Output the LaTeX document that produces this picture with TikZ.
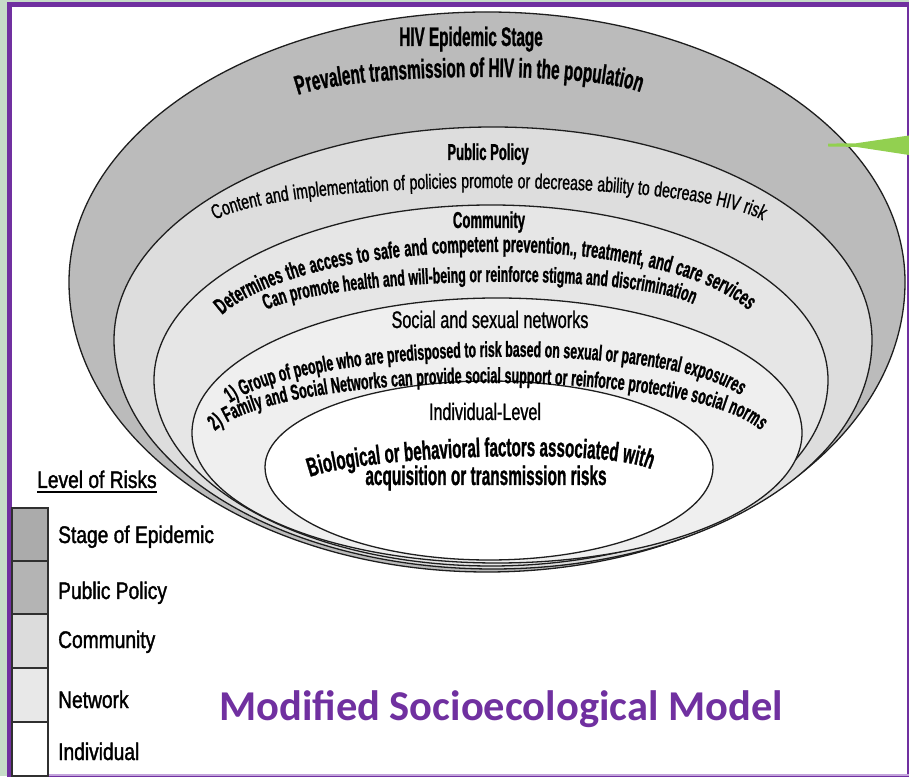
\documentclass[tikz,border=0pt]{standalone}
\usepackage{fontspec}
\setmainfont{Liberation Sans}
\newfontfamily\ringbold[FakeStretch=0.57, FakeBold=1]{Liberation Sans}
\newfontfamily\ringreg[FakeStretch=0.68, FakeBold=1]{Liberation Sans}
\newfontfamily\keyfont[FakeStretch=0.8, FakeBold=1.5]{Liberation Sans}
\newfontfamily\titlefont{Carlito}
\usetikzlibrary{decorations.text}

\definecolor{framepurple}{HTML}{7030A0}
\definecolor{framelight}{HTML}{C3A4DC}
\definecolor{outsidegreen}{HTML}{C6DCC8}
\definecolor{leafgreen}{HTML}{92D050}
\definecolor{ringink}{HTML}{1E1E1E}
\definecolor{keyink}{HTML}{303030}
\definecolor{epifill}{HTML}{BBBBBB}
\definecolor{policyfill}{HTML}{DDDDDD}
\definecolor{commfill}{HTML}{E6E6E6}
\definecolor{netfill}{HTML}{EFEFEF}
\definecolor{keyepi}{HTML}{ABABAB}
\definecolor{keypolicy}{HTML}{B4B4B4}
\definecolor{keycomm}{HTML}{DCDCDC}
\definecolor{keynet}{HTML}{E8E8E8}

% page height in px; every y below is measured from the top edge
\newcommand{\pgh}{776}
% egg-shaped ring: fill, centre x, centre y, x radius, upper y radius, lower y radius
\newcommand{\ringshape}[6]{%
  \filldraw[ringline, fill=#1] (#2-#4,\pgh-#3)
    arc[start angle=180, end angle=0, x radius=#4pt, y radius=#5pt]
    arc[start angle=0, end angle=-180, x radius=#4pt, y radius=#6pt] -- cycle;}

\begin{document}
\begin{tikzpicture}[x=1pt, y=1pt,
  ringline/.style={draw=ringink, line width=1.3pt},
  keybox/.style={draw=keyink, line width=1.4pt},
  keylabel/.style={anchor=base west, inner sep=0pt, text=black,
    font=\keyfont\fontsize{24}{24}\selectfont},
  heading/.style={anchor=base, inner sep=0pt, text=black},
  ringtext/.style={decorate, decoration={text along path,
    text align={fit to path stretching spaces}, text={#1}}}]

\useasboundingbox (0,0) rectangle (909,776);
\clip (0,0) rectangle (909,776);

% slide background and frame
\fill[outsidegreen] (0,0) rectangle (909,776);
\fill[white] (9,-5) rectangle (912,\pgh-5);
\draw[framepurple, line width=5pt] (9.3,-2.5) rectangle (909.5,\pgh-5);
\draw[framelight, line width=1.6pt] (11.8,0.8) -- (909,0.8);

% nested levels, outermost first
\ringshape{epifill}{487}{282}{418}{270}{290}
\ringshape{policyfill}{493}{340}{379}{213}{229}
\ringshape{commfill}{491}{380}{337}{175}{186}
\ringshape{netfill}{497}{433}{305}{135}{130}
\ringshape{white}{489}{467}{224}{86}{93}

% pointer entering from the right
\fill[leafgreen] (828,\pgh-143.6) -- (856,\pgh-143.3) -- (909,\pgh-135.5)
  -- (909,\pgh-155) -- (856,\pgh-146.9) -- (828,\pgh-146.5) -- cycle;

% --- stage of epidemic
\node[heading, font=\ringbold\bfseries\fontsize{26.8}{26.8}\selectfont]
  (epihead) at (471,\pgh-46) {HIV Epidemic Stage};
\path[ringtext={|\ringbold\bfseries\fontsize{26.9}{26.9}\selectfont|Prevalent transmission of HIV in the population}]
  (298,\pgh-95) .. controls (359,\pgh-73) and (579,\pgh-70) .. (640,\pgh-92);

% --- public policy
\node[heading, font=\ringbold\bfseries\fontsize{22.9}{22.9}\selectfont]
  (polhead) at (488,\pgh-160) {Public Policy};
\path[ringtext={|\ringreg\fontsize{20.7}{20.7}\selectfont|Content and implementation of policies promote or decrease ability to decrease HIV risk}]
  (215,\pgh-220) .. controls (295,\pgh-177.3) and (682,\pgh-177.3) .. (762,\pgh-220);

% --- community
\node[heading, font=\ringbold\bfseries\fontsize{23}{23}\selectfont]
  (commhead) at (489,\pgh-228) {Community};
\path[ringtext={|\ringbold\bfseries\fontsize{22.9}{22.9}\selectfont|Determines the access to safe and competent prevention., treatment, and care services}]
  (222,\pgh-315) .. controls (312,\pgh-234.3) and (658,\pgh-229.3) .. (748,\pgh-310);
\path[ringtext={|\ringbold\bfseries\fontsize{21.7}{21.7}\selectfont|Can promote health and will-being or reinforce stigma and discrimination}]
  (266,\pgh-310) .. controls (337,\pgh-276.7) and (622,\pgh-270.7) .. (693,\pgh-304);

% --- social and sexual networks
\node[heading, font=\ringreg\fontsize{23.9}{23.9}\selectfont]
  (nethead) at (490,\pgh-328) {Social and sexual networks};
\path[ringtext={|\ringbold\bfseries\fontsize{21.7}{21.7}\selectfont|1) Group of people who are predisposed to risk based on sexual or parenteral exposures}]
  (230,\pgh-403) .. controls (310,\pgh-347) and (660,\pgh-339) .. (740,\pgh-395);
\path[ringtext={|\ringbold\bfseries\fontsize{21.9}{21.9}\selectfont|2) Family and Social Networks can provide social support or reinforce protective social norms}]
  (215,\pgh-431) .. controls (285,\pgh-367.7) and (690,\pgh-366.7) .. (760,\pgh-430);

% --- individual
\node[heading, font=\ringreg\fontsize{23.7}{23.7}\selectfont]
  (indhead) at (485,\pgh-420) {Individual-Level};
\path[ringtext={|\ringbold\bfseries\fontsize{26.6}{26.6}\selectfont|Biological or behavioral factors associated with}]
  (310,\pgh-477) .. controls (367,\pgh-456.3) and (591,\pgh-447.3) .. (648,\pgh-468);
\node[heading, font=\ringbold\bfseries\fontsize{27}{27}\selectfont]
  (indtext) at (486,\pgh-485) {acquisition or transmission risks};

% --- key
\node[keylabel] (keytitle) at (37,\pgh-488) {Level of Risks};
\draw[line width=1.7pt] ([yshift=-4pt]keytitle.base west) -- ([yshift=-4pt]keytitle.base east);

\draw[keybox, fill=keyepi]    (12,\pgh-508) rectangle (48,\pgh-561);
\draw[keybox, fill=keypolicy] (12,\pgh-561) rectangle (48,\pgh-614);
\draw[keybox, fill=keycomm]   (12,\pgh-614) rectangle (48,\pgh-668);
\draw[keybox, fill=keynet]    (12,\pgh-668) rectangle (48,\pgh-722);
\draw[keybox, fill=white]     (12,\pgh-722) rectangle (48,\pgh-776);

\node[keylabel] (keyepi)  at (58,\pgh-543) {Stage of Epidemic};
\node[keylabel] (keypol)  at (58,\pgh-599) {Public Policy};
\node[keylabel] (keycomm) at (58,\pgh-648) {Community};
\node[keylabel] (keynet)  at (58,\pgh-708) {Network};
\node[keylabel] (keyind)  at (58,\pgh-760) {Individual};

% --- caption
\node[anchor=base, inner sep=0pt, text=framepurple,
  font=\titlefont\bfseries\fontsize{42.5}{42.5}\selectfont]
  (caption) at (501,\pgh-720) {Modified Socioecological Model};
\end{tikzpicture}
\end{document}
